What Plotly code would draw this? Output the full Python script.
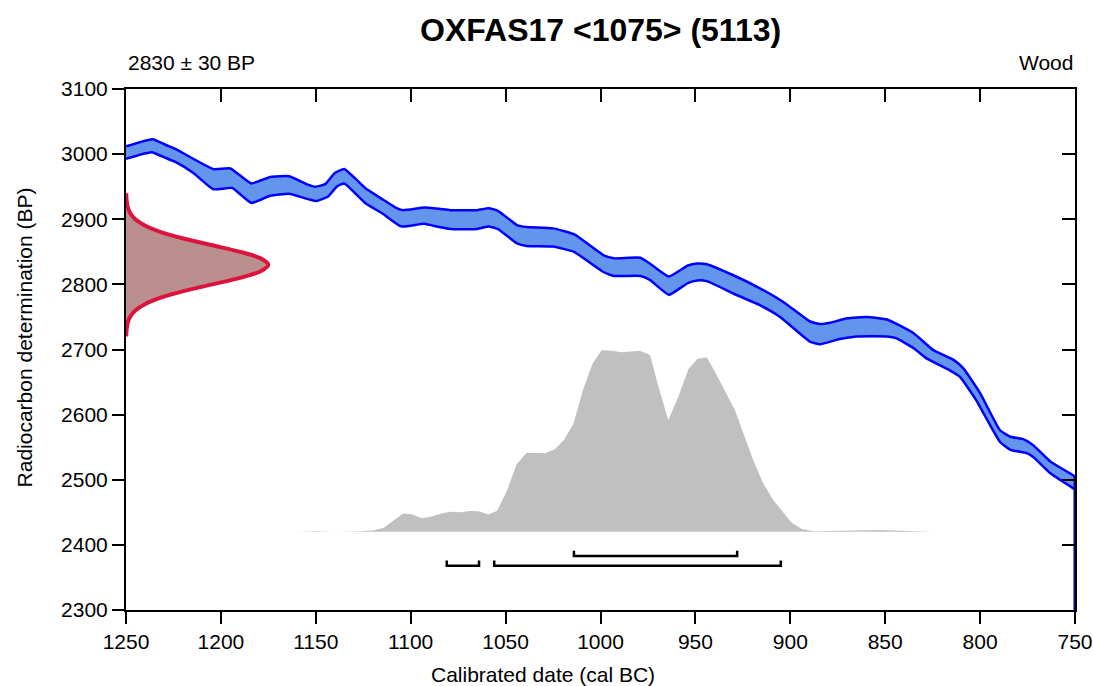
import plotly.graph_objects as go

# ---------------- data ----------------
title_text = "OXFAS17 &lt;1075&gt; (5113)"
measurement_label = "2830 ± 30 BP"
material_label = "Wood"

x_ticks = [1250, 1200, 1150, 1100, 1050, 1000, 950, 900, 850, 800, 750]
y_ticks = [2300, 2400, 2500, 2600, 2700, 2800, 2900, 3000, 3100]

# calibration curve band (upper / lower edges)
calib_upper_year = [1250, 1236, 1229, 1224, 1204, 1195, 1184, 1174, 1164, 1155, 1150, 1145, 1140, 1135,
                    1124, 1114.5, 1108, 1104, 1093, 1085, 1079, 1065, 1059, 1054, 1044, 1039, 1025, 1014,
                    998.5, 993, 979, 974, 964, 954, 949, 944, 930, 916, 903.7, 889.6, 884.4, 879, 870,
                    859.7, 849, 835, 824.6, 814, 808.8, 800, 789.5, 784, 777, 772, 763, 751, 750]
calib_upper_bp = [3012, 3023, 3014, 3008, 2977, 2978, 2955, 2965, 2966, 2954, 2950, 2954, 2971, 2977,
                  2948, 2930, 2918, 2914, 2918, 2916, 2914, 2914, 2917, 2913, 2891, 2888, 2886, 2877,
                  2845, 2840, 2841, 2832, 2812, 2829, 2832, 2831, 2814, 2794, 2773, 2743, 2739, 2741, 2748,
                  2750, 2746, 2725, 2699, 2684, 2671, 2633, 2576, 2566, 2562, 2553, 2528, 2507, 2505]
calib_lower_year = [1250, 1236.5, 1229, 1224, 1214.5, 1204, 1194, 1184, 1174, 1164, 1150, 1143.5, 1139,
                    1135, 1124, 1114.5, 1105, 1093, 1085, 1079, 1065, 1059, 1054, 1044, 1039, 1025, 1014,
                    998.5, 993, 979, 974, 964, 954, 949, 944, 930, 916, 905.4, 889.6, 884.4, 874, 865,
                    849, 844, 835, 828, 816, 810.6, 802, 789.5, 784, 775.4, 772, 763, 751, 750]
calib_lower_bp = [2993, 3003, 2994, 2988, 2971, 2946, 2948, 2925, 2936, 2939, 2928, 2935, 2950,
                  2955, 2925, 2908, 2889, 2893, 2888, 2885, 2885, 2889, 2885, 2863, 2859, 2858, 2850,
                  2819, 2813, 2813, 2807, 2784, 2802, 2806, 2805, 2786, 2768, 2750, 2712, 2708, 2716, 2720,
                  2720, 2717, 2702, 2686, 2668, 2658, 2622, 2558, 2546, 2541, 2535, 2510, 2487, 2485]

# radiocarbon measurement distribution (BP, extent in years from the left axis)
meas_bp = [2720, 2730, 2740, 2750, 2760, 2770, 2780, 2790, 2800, 2810, 2820, 2830,
           2840, 2850, 2860, 2870, 2880, 2890, 2900, 2910, 2920, 2930, 2940]
meas_extent = [0.1, 0.3, 0.8, 2.1, 4.9, 10.2, 18.7, 30.8, 45.5, 60.1, 70.9, 75.0,
               70.9, 60.1, 45.5, 30.8, 18.7, 10.2, 4.9, 2.1, 0.8, 0.3, 0.1]

# calibrated (posterior) distribution, drawn above a baseline
post_base = 2420
post_year = [1210, 1195, 1186, 1175, 1160, 1150, 1140, 1130, 1120, 1114.4, 1104, 1099.5, 1094, 1089,
             1083.7, 1079.3, 1074, 1068.8, 1064.4, 1059, 1054.4, 1049.5, 1044.2, 1038.9, 1029.3, 1024,
             1019.3, 1014.3, 1009, 1004.1, 999.4, 994, 988.8, 979.2, 973.9, 969.5, 964.3, 959, 953.7,
             949, 944, 939.7, 929.2, 919.5, 914.3, 909, 899.3, 894, 887.9, 873.9, 860, 853, 845, 835, 825]
post_top = [2420, 2420.5, 2421, 2420.3, 2420.3, 2421, 2420.3, 2420.5, 2422, 2426, 2448, 2447, 2441, 2443.5,
            2448, 2451, 2450, 2452, 2451.5, 2446.5, 2452.5, 2481.7, 2523.7, 2541.6, 2540.6, 2546.8,
            2561, 2585.6, 2640, 2678.7, 2699, 2698, 2695.7, 2698, 2691.6, 2643, 2591.8, 2627.5, 2669.6,
            2685.4, 2688, 2666, 2607, 2530, 2494.5, 2469, 2434, 2424.4, 2421, 2421.7, 2422.5, 2423, 2422, 2420.5, 2420]

# highest posterior density ranges
range68_start = [1014]
range68_end = [928]
range68_level = 2383
range95_start = [1081, 1056]
range95_end = [1064, 905]
range95_level = 2368
bracket_tick = 8

# ---------------- styles ----------------
FONT = "Liberation Sans, Arial, sans-serif"
BLUE_LINE = "#0000FF"
BLUE_FILL = "#6495ED"
GRAY = "#C0C0C0"
RED_LINE = "#DC143C"
RED_FILL = "#BC8F8F"

x_lo, x_hi = x_ticks[0], x_ticks[-1]
y_lo, y_hi = y_ticks[0], y_ticks[-1]

fig = go.Figure()

# posterior distribution
fig.add_trace(go.Scatter(
    x=[post_year[0]] + post_year + [post_year[-1]],
    y=[post_base] + post_top + [post_base],
    fill="toself", fillcolor=GRAY, mode="lines", line=dict(width=0, color=GRAY),
    hoverinfo="skip"))

# calibration band
fig.add_trace(go.Scatter(
    x=calib_upper_year + calib_lower_year[::-1],
    y=calib_upper_bp + calib_lower_bp[::-1],
    fill="toself", fillcolor=BLUE_FILL, mode="lines", line=dict(width=0, color=BLUE_FILL),
    hoverinfo="skip"))
for xs, ys in ((calib_upper_year, calib_upper_bp), (calib_lower_year, calib_lower_bp)):
    fig.add_trace(go.Scatter(x=xs, y=ys, mode="lines",
                             line=dict(color=BLUE_LINE, width=2.5, shape="spline", smoothing=0.4),
                             hoverinfo="skip"))
# curve end drop at the right edge
fig.add_trace(go.Scatter(x=[calib_lower_year[-1], calib_lower_year[-1]],
                         y=[calib_upper_bp[-1], y_lo], mode="lines",
                         line=dict(color="#0000AA", width=3), hoverinfo="skip"))

# measurement distribution
meas_x = [x_lo - e for e in meas_extent]
fig.add_trace(go.Scatter(
    x=[x_lo] + meas_x + [x_lo], y=[meas_bp[0]] + meas_bp + [meas_bp[-1]],
    fill="toself", fillcolor=RED_FILL, mode="lines", line=dict(width=0, color=RED_FILL),
    hoverinfo="skip"))
fig.add_trace(go.Scatter(x=meas_x, y=meas_bp, mode="lines",
                         line=dict(color=RED_LINE, width=4, shape="spline", smoothing=0.8),
                         hoverinfo="skip"))

# range brackets
def bracket(starts, ends, level):
    bx, by = [], []
    for s, e in zip(starts, ends):
        bx += [s, s, e, e, None]
        by += [level + bracket_tick, level, level, level + bracket_tick, None]
    return bx, by

for st, en, lv in ((range68_start, range68_end, range68_level),
                   (range95_start, range95_end, range95_level)):
    bx, by = bracket(st, en, lv)
    fig.add_trace(go.Scatter(x=bx, y=by, mode="lines", line=dict(color="black", width=2.5),
                             hoverinfo="skip"))

# dummy trace for the mirrored (top / right) axes
fig.add_trace(go.Scatter(x=[x_lo], y=[y_lo], xaxis="x2", yaxis="y2", mode="markers",
                         marker=dict(opacity=0), hoverinfo="skip"))

axis_common = dict(showgrid=False, zeroline=False, showline=True, linecolor="black", linewidth=2,
                   tickcolor="black", tickwidth=2, automargin=False,
                   tickfont=dict(family=FONT, size=21, color="black"))

fig.update_layout(
    width=1093, height=686,
    margin=dict(l=126, r=18, t=89, b=76),
    paper_bgcolor="white", plot_bgcolor="white",
    showlegend=False,
    xaxis=dict(range=[x_lo, x_hi], tickvals=x_ticks, ticks="outside", ticklen=12, **axis_common),
    yaxis=dict(range=[y_lo, y_hi], tickvals=y_ticks, ticks="outside", ticklen=12, **axis_common),
    xaxis2=dict(range=[x_lo, x_hi], tickvals=x_ticks, ticks="inside", ticklen=13, overlaying="x",
                side="top", showticklabels=False, **axis_common),
    yaxis2=dict(range=[y_lo, y_hi], tickvals=y_ticks, ticks="inside", ticklen=13, overlaying="y",
                side="right", showticklabels=False, **axis_common),
    annotations=[
        dict(text="<b>" + title_text + "</b>", xref="paper", yref="paper", x=0.5, y=1, yshift=59,
             xanchor="center", yanchor="middle", showarrow=False,
             font=dict(family=FONT, size=32, color="black")),
        dict(text=measurement_label, xref="paper", yref="paper", x=0, y=1, yshift=27,
             xanchor="left", yanchor="middle", showarrow=False,
             font=dict(family=FONT, size=21, color="black")),
        dict(text=material_label, xref="paper", yref="paper", x=1, y=1, yshift=27,
             xanchor="right", yanchor="middle", showarrow=False,
             font=dict(family=FONT, size=21, color="black")),
        dict(text="Calibrated date (cal BC)", xref="paper", yref="paper", x=0.4394, y=0, yshift=-64,
             xanchor="center", yanchor="middle", showarrow=False,
             font=dict(family=FONT, size=21, color="black")),
        dict(text="Radiocarbon determination (BP)", xref="paper", yref="paper", x=-0.1065, y=0.523,
             xanchor="center", yanchor="middle", textangle=-90, showarrow=False,
             font=dict(family=FONT, size=21, color="black")),
    ],
)

fig.write_html("out.html")
